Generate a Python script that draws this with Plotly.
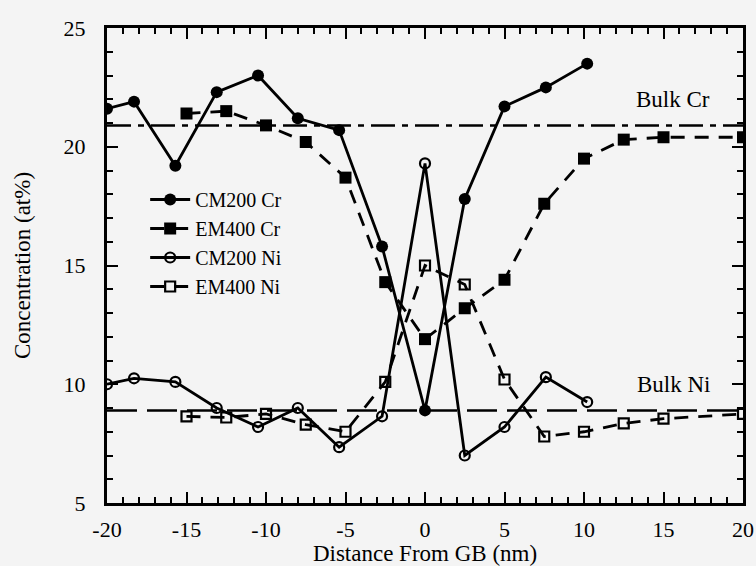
import plotly.graph_objects as go

# Distances (nm) and concentrations (at%)
cm200_x = [-20, -18.3, -15.7, -13.1, -10.5, -8.0, -5.4, -2.7, 0, 2.5, 5.0, 7.6, 10.2]
cm200_cr = [21.6, 21.9, 19.2, 22.3, 23.0, 21.2, 20.7, 15.8, 8.9, 17.8, 21.7, 22.5, 23.5]
cm200_ni = [10.0, 10.25, 10.1, 9.0, 8.2, 9.0, 7.35, 8.65, 19.3, 7.0, 8.2, 10.3, 9.25]

em400_x = [-15, -12.5, -10, -7.5, -5, -2.5, 0, 2.5, 5, 7.5, 10, 12.5, 15, 20]
em400_cr = [21.4, 21.5, 20.9, 20.2, 18.7, 14.3, 11.9, 13.2, 14.4, 17.6, 19.5, 20.3, 20.4, 20.4]
em400_ni = [8.65, 8.6, 8.75, 8.3, 8.0, 10.1, 15.0, 14.2, 10.2, 7.8, 8.0, 8.35, 8.55, 8.75]

bulk_x = [-20, 20]
bulk_cr = 20.9
bulk_ni = 8.9

x_ticks = [-20, -15, -10, -5, 0, 5, 10, 15, 20]
y_ticks = [5, 10, 15, 20, 25]

FONT = "Liberation Serif, Times New Roman, serif"
BG = "#f4f4f4"

fig = go.Figure()

fig.add_trace(go.Scatter(x=bulk_x, y=[bulk_cr, bulk_cr], mode="lines",
                         line=dict(color="black", width=2.5, dash="24px,7px,6px,7px"),
                         showlegend=False, hoverinfo="skip"))
fig.add_trace(go.Scatter(x=bulk_x, y=[bulk_ni, bulk_ni], mode="lines",
                         line=dict(color="black", width=2.5, dash="30px,10px"),
                         showlegend=False, hoverinfo="skip"))

fig.add_trace(go.Scatter(x=cm200_x, y=cm200_cr, mode="lines+markers", name="CM200 Cr",
                         line=dict(color="black", width=2.8),
                         marker=dict(symbol="circle", size=12, color="black")))
fig.add_trace(go.Scatter(x=em400_x, y=em400_cr, mode="lines+markers", name="EM400 Cr",
                         line=dict(color="black", width=2.8, dash="14px,10px"),
                         marker=dict(symbol="square", size=12, color="black")))
fig.add_trace(go.Scatter(x=cm200_x, y=cm200_ni, mode="lines+markers", name="CM200 Ni",
                         line=dict(color="black", width=2.8),
                         marker=dict(symbol="circle-open", size=10, color="black",
                                     line=dict(width=2.2))))
fig.add_trace(go.Scatter(x=em400_x, y=em400_ni, mode="lines+markers", name="EM400 Ni",
                         line=dict(color="black", width=2.8, dash="14px,10px"),
                         marker=dict(symbol="square-open", size=10, color="black",
                                     line=dict(width=2.2))))

fig.add_annotation(x=15.6, y=bulk_cr, yshift=26, text="Bulk Cr", showarrow=False,
                   xref="x", yref="y", font=dict(family=FONT, size=23, color="black"))
fig.add_annotation(x=15.6, y=bulk_ni, yshift=26, text="Bulk Ni", showarrow=False,
                   xref="x", yref="y", font=dict(family=FONT, size=23, color="black"))

minor_ticks = dict(ticks="inside", ticklen=6, tickwidth=1.8, tickcolor="black", dtick=1)
axis_common = dict(showline=True, linecolor="black", linewidth=3, mirror="ticks",
                   ticks="inside", ticklen=11, tickwidth=2, tickcolor="black",
                   showgrid=False, zeroline=False,
                   tickfont=dict(family=FONT, size=22, color="black"),
                   minor=minor_ticks)

fig.update_xaxes(range=[-20, 20], tickvals=x_ticks, ticktext=[str(v) for v in x_ticks],
                 ticklabelstandoff=5,
                 title=dict(text="Distance From GB (nm)", standoff=2,
                            font=dict(family=FONT, size=23, color="black")),
                 **axis_common)
fig.update_yaxes(range=[5, 25], tickvals=y_ticks, ticktext=[str(v) for v in y_ticks],
                 ticklabelstandoff=14,
                 title=dict(text="Concentration (at%)", standoff=27,
                            font=dict(family=FONT, size=23, color="black")),
                 **axis_common)

fig.update_layout(
    width=756, height=566,
    margin=dict(l=107, r=13, t=28, b=63, autoexpand=False),
    paper_bgcolor=BG, plot_bgcolor=BG,
    font=dict(family=FONT, color="black"),
    legend=dict(x=0.06, y=0.68, xanchor="left", yanchor="top",
                bgcolor="rgba(0,0,0,0)", font=dict(family=FONT, size=20, color="black"),
                tracegroupgap=0, itemwidth=40),
    showlegend=True,
)

fig.write_html(
    "out.html",
    config={"displayModeBar": False},
    post_script="document.body.style.margin='0';document.body.style.overflow='hidden';",
)
